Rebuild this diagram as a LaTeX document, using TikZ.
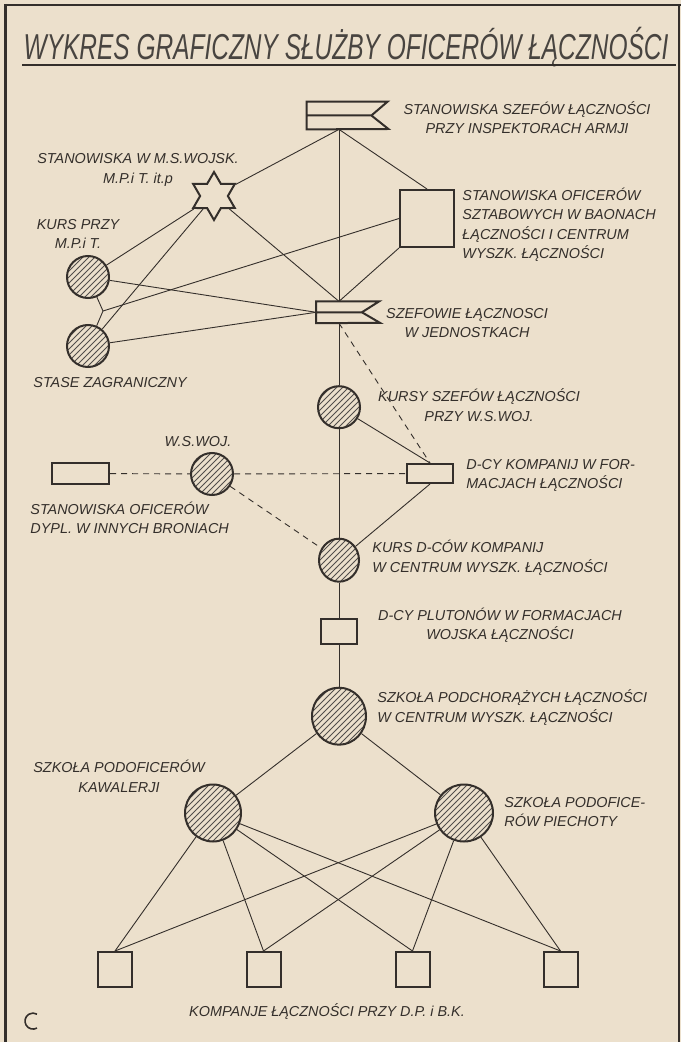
\documentclass[tikz,border=0pt]{standalone}
\usepackage{fontspec}
\setmainfont{Liberation Sans}
\usepackage{graphicx}
\usetikzlibrary{positioning,shapes.geometric,patterns}

\definecolor{paper}{RGB}{236,224,204}
\definecolor{ink}{RGB}{52,47,43}

\tikzset{
  unit/.style={draw=ink,line width=1pt,inner sep=0pt},
  hatched/.style={unit,ellipse,pattern=north east lines,pattern color=ink!85},
  box/.style={unit,rectangle},
  pennant/.style={rectangle,inner sep=0pt},
  link/.style={draw=ink,line width=0.45pt},
  dlink/.style={link,dash pattern=on 3pt off 2.5pt},
  caption/.style={text=ink,font=\fontsize{7.2}{9.75}\selectfont\itshape,inner sep=0pt}
}

\begin{document}
\begin{tikzpicture}[x=0.5pt,y=-0.5pt]
\fill[paper] (0,0) rectangle (681,1042);
\useasboundingbox (0,0) rectangle (681,1042);
\draw[ink,line width=1.5pt] (5,4) -- (5,1042);
\draw[ink,line width=1pt] (4,5) -- (681,5);
\draw[ink,line width=0.6pt] (679,5) -- (679,1042);

\node[text=ink!90,inner sep=0pt,font=\fontsize{18}{20}\selectfont\itshape] (title) at (346,47) {\scalebox{0.68}[1]{WYKRES GRAFICZNY SŁUŻBY OFICERÓW ŁĄCZNOŚCI}};
\draw[ink,line width=1pt] (22,65) -- (676,65);

\node[pennant,minimum width=32pt,minimum height=13.5pt] (armje) at (339,115.5) {};
\node[pennant,minimum width=22.5pt,minimum height=10.5pt] (szefowie) [below=86pt of armje] {};
\node[hatched,minimum width=21pt,minimum height=21pt] (kursy) [below=31pt of szefowie] {};
\node[hatched,minimum width=20pt,minimum height=21.5pt] (kursdcow) [below=54.25pt of kursy] {};
\node[box,minimum width=18pt,minimum height=12.5pt] (plutony) [below=17.75pt of kursdcow] {};
\node[hatched,minimum width=27pt,minimum height=28.5pt] (podchorazy) [below=20.75pt of plutony] {};

\draw[ink,line width=1pt] (armje.north west) -- ++(81,0) -- (armje.east) -- ++(17,13.5) -- (armje.south west) -- cycle (armje.west) -- (armje.east);
\draw[ink,line width=1pt] (szefowie.north west) -- ++(63,0) -- (szefowie.east) -- ++(18,10.5) -- (szefowie.south west) -- cycle (szefowie.west) -- (szefowie.east);

\node[unit,star,star points=6,star point ratio=1.73,minimum size=24pt] (msw) at (214,196) {};
\node[box,minimum width=27pt,minimum height=28.5pt] (sztab) at (427,218.5) {};
\node[hatched,minimum size=21pt] (mpit) at (88,277) {};
\node[hatched,minimum size=21pt] (stase) at (88,346) {};
\coordinate (widelki) at (103,311);
\node[box,minimum width=23pt,minimum height=9.5pt] (kompanie) at (430,473.5) {};
\node[hatched,minimum size=21pt] (wsw) at (212,474) {};
\node[box,minimum width=28.5pt,minimum height=10.5pt] (dypl) at (80.5,473.5) {};
\node[hatched,minimum width=28pt,minimum height=28.5pt] (kawaleria) at (213,813) {};
\node[hatched,minimum width=29pt,minimum height=28.5pt] (piechota) at (464,813) {};
\foreach \i/\x in {1/115,2/263.5,3/412.5,4/560.5}
  \node[box,minimum width=17pt,minimum height=17.5pt] (komp\i) at (\x,969.5) {};

\node[caption,align=center] (armjetxt) at (527,117.5) {STANOWISKA SZEFÓW ŁĄCZNOŚCI\\PRZY INSPEKTORACH ARMJI};
\node[caption,align=center] (mswtxt) at (138,170) {STANOWISKA W M.S.WOJSK.\\M.P.i T. it.p};
\node[caption,align=left,anchor=west] (sztabtxt) at (462,225) {STANOWISKA OFICERÓW\\SZTABOWYCH W BAONACH\\ŁĄCZNOŚCI I CENTRUM\\WYSZK. ŁĄCZNOŚCI};
\node[caption,align=center] (mpittxt) at (78,234) {KURS PRZY\\M.P.i T.};
\node[caption,anchor=west] (stasetxt) at (33,383) {STASE ZAGRANICZNY};
\node[caption,align=center] (szefowietxt) at (467,323) {SZEFOWIE ŁĄCZNOSCI\\W JEDNOSTKACH};
\node[caption,align=center] (kursytxt) at (479,405) {KURSY SZEFÓW ŁĄCZNOŚCI\\PRZY W.S.WOJ.};
\node[caption] (wswtxt) at (198,442) {W.S.WOJ.};
\node[caption,align=left,anchor=west] (kompanietxt) at (466,475.5) {D-CY KOMPANIJ W FOR-\\MACJACH ŁĄCZNOŚCI};
\node[caption,align=left,anchor=west] (dypltxt) at (30,518) {STANOWISKA OFICERÓW\\DYPL. W INNYCH BRONIACH};
\node[caption,align=left,anchor=west] (kursdcowtxt) at (372,558) {KURS D-CÓW KOMPANIJ\\W CENTRUM WYSZK. ŁĄCZNOŚCI};
\node[caption,align=center] (plutonytxt) at (500,625.5) {D-CY PLUTONÓW W FORMACJACH\\WOJSKA ŁĄCZNOŚCI};
\node[caption,align=left,anchor=west] (podchorazytxt) at (377,707.5) {SZKOŁA PODCHORĄŻYCH ŁĄCZNOŚCI\\W CENTRUM WYSZK. ŁĄCZNOŚCI};
\node[caption,align=center] (kawaleriatxt) at (119,776.5) {SZKOŁA PODOFICERÓW\\KAWALERJI};
\node[caption,align=left,anchor=west] (piechotatxt) at (504,812) {SZKOŁA PODOFICE-\\RÓW PIECHOTY};
\node[caption] (komptxt) at (327,1012) {KOMPANJE ŁĄCZNOŚCI PRZY D.P. i B.K.};

\draw[link] (armje.south) -- (msw);
\draw[link] (armje.south) -- (sztab.north);
\draw[link] (armje.south) -- (szefowie.north);
\draw[link] (msw) -- (mpit);
\draw[link] (msw) -- (stase);
\draw[link] (msw) -- (szefowie.north);
\draw[link] (sztab.west) -- (widelki);
\draw[link] (widelki) -- (mpit);
\draw[link] (widelki) -- (stase);
\draw[link] (sztab.south west) -- (szefowie.north);
\draw[link] (mpit) -- (szefowie.west);
\draw[link] (stase) -- (szefowie.west);
\draw[link] (szefowie.south) -- (kursy);
\draw[dlink] (szefowie.south) -- (kompanie.north);
\draw[link] (kursy) -- (kompanie.north);
\draw[link] (kursy) -- (kursdcow);
\draw[dlink] (dypl) -- (wsw);
\draw[dlink] (wsw) -- (kompanie);
\draw[dlink] (wsw) -- (kursdcow);
\draw[link] (kompanie.south) -- (kursdcow);
\draw[link] (kursdcow) -- (plutony);
\draw[link] (plutony) -- (podchorazy);
\draw[link] (podchorazy) -- (kawaleria);
\draw[link] (podchorazy) -- (piechota);
\foreach \i in {1,...,4} {
  \draw[link] (kawaleria) -- (komp\i.north);
  \draw[link] (piechota) -- (komp\i.north);
}

\draw[ink,line width=0.8pt] (37,1028) arc[start angle=60,end angle=300,radius=8];
\end{tikzpicture}
\end{document}
